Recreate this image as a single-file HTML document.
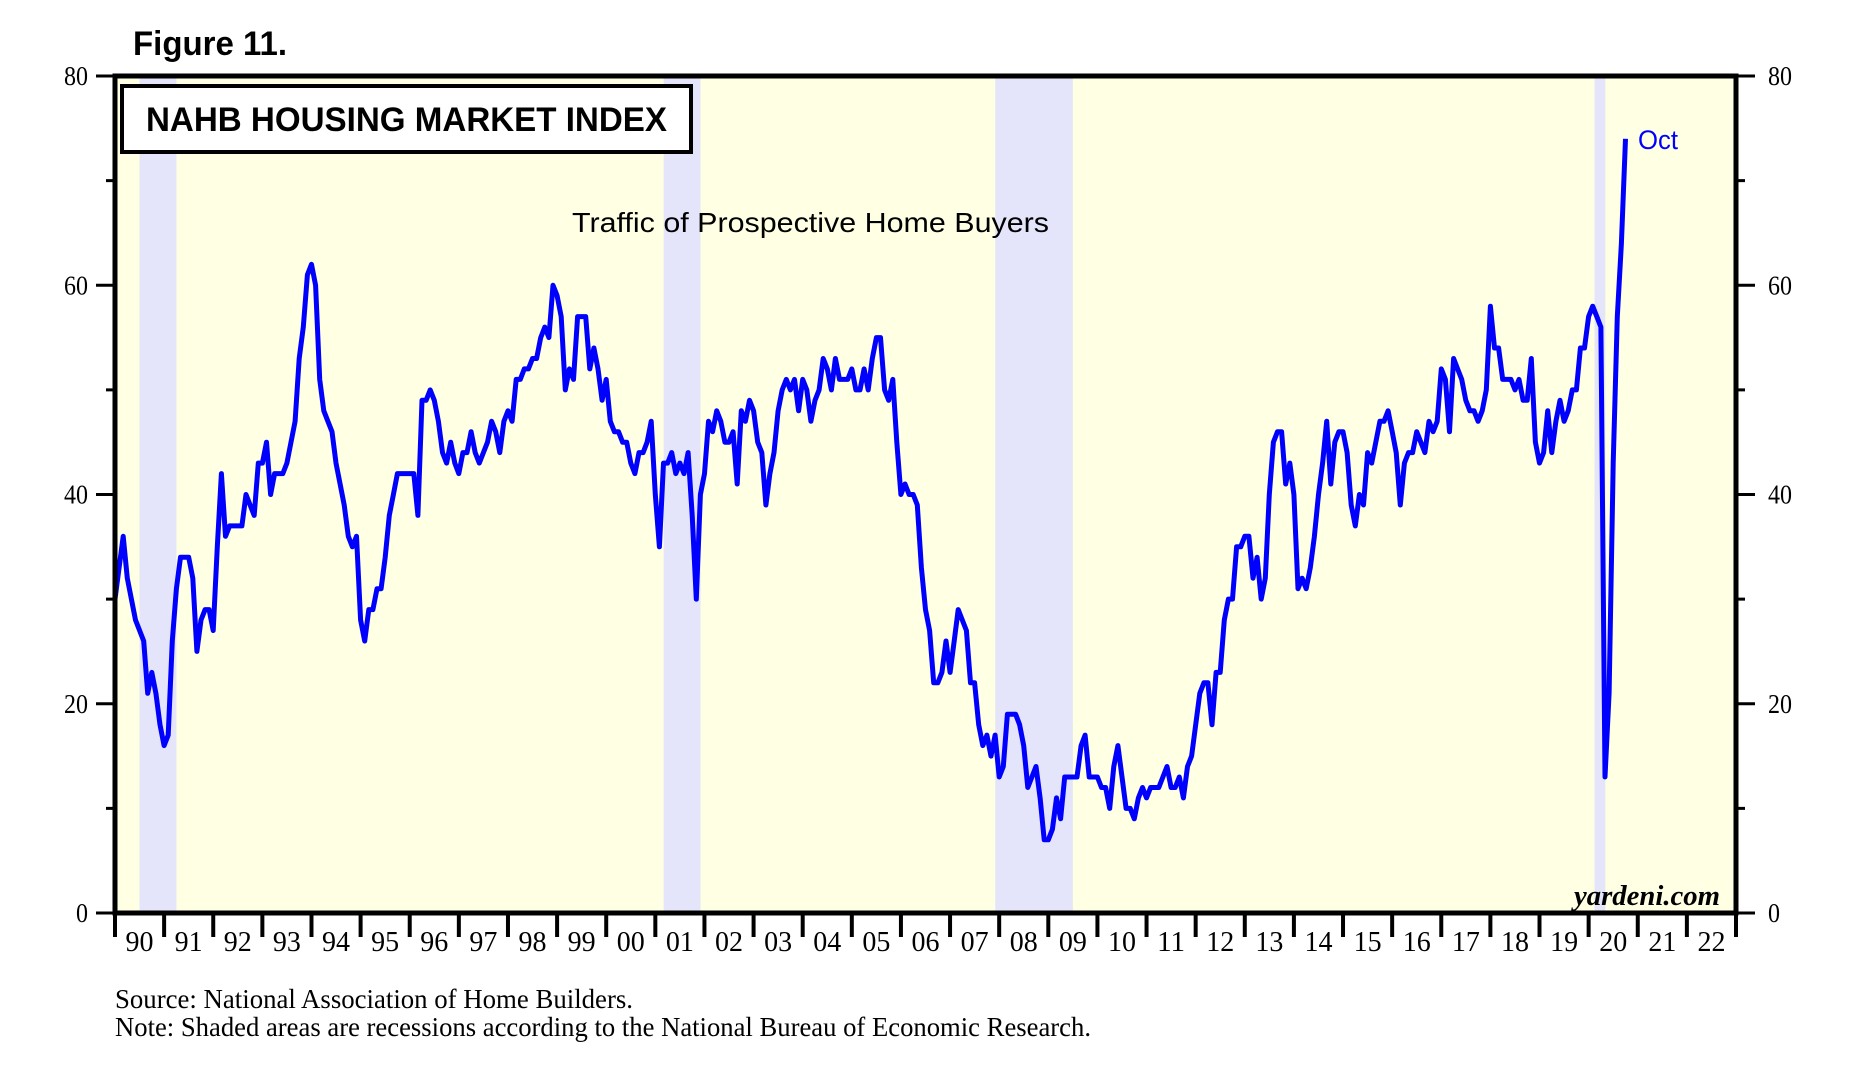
<!DOCTYPE html>
<html><head><meta charset="utf-8"><style>
html,body{margin:0;padding:0;background:#fff;}
svg{display:block;}
</style></head><body>
<svg id="chart" width="1860" height="1069" viewBox="0 0 1860 1069" xmlns="http://www.w3.org/2000/svg">
<rect x="0" y="0" width="1860" height="1069" fill="#fff"/>
<text x="133" y="55" font-family="Liberation Sans, sans-serif" font-weight="bold" font-size="34" textLength="154" lengthAdjust="spacingAndGlyphs">Figure 11.</text>
<rect x="115" y="76" width="1621" height="837" fill="#FFFFE3"/>
<g id="recessions"></g>
<g id="series"></g>
<rect x="115" y="76" width="1621" height="837" fill="none" stroke="#000" stroke-width="5"/>
<g id="yaxis"></g>
<g id="xaxis"></g>
<rect x="122" y="86" width="569" height="66" fill="#fff" stroke="#000" stroke-width="4"/>
<text x="146" y="131" font-family="Liberation Sans, sans-serif" font-weight="bold" font-size="34" textLength="521" lengthAdjust="spacingAndGlyphs">NAHB HOUSING MARKET INDEX</text>
<text x="572" y="232" font-family="Liberation Sans, sans-serif" font-size="28" textLength="477" lengthAdjust="spacingAndGlyphs">Traffic of Prospective Home Buyers</text>
<text x="1638" y="149" font-family="Liberation Sans, sans-serif" font-size="27" fill="#0000ff" textLength="40" lengthAdjust="spacingAndGlyphs">Oct</text>
<text x="1720" y="905" text-anchor="end" font-family="Liberation Serif, serif" font-style="italic" font-weight="bold" font-size="28" textLength="146" lengthAdjust="spacingAndGlyphs">yardeni.com</text>
<text x="115" y="1008" font-family="Liberation Serif, serif" font-size="27" textLength="518" lengthAdjust="spacingAndGlyphs">Source: National Association of Home Builders.</text>
<text x="115" y="1036" font-family="Liberation Serif, serif" font-size="27" textLength="976" lengthAdjust="spacingAndGlyphs">Note: Shaded areas are recessions according to the National Bureau of Economic Research.</text>
</svg>
<script>
// monthly values starting Jan 1990
const startYear = 1990;
const values = [30,33,36,32,30,28,27,26,21,23,21,18,16,17,
26,31,34,34,34,32,25,28,29,29,27,
35,42,36,37,37,37,37,40,39,38,
43,43,45,40,42,42,42,43,45,47,
53,56,61,62,60,
51,48,47,46,43,41,39,36,35,36,
28,26,29,29,31,31,34,38,40,42,
42,42,42,42,38,
49,49,50,49,47,44,43,45,43,42,
44,44,46,44,43,44,45,47,46,44,47,48,47,51,
51,52,52,53,53,55,56,55,60,59,57,
50,52,51,57,57,57,52,54,52,49,
51,47,46,46,45,45,43,42,44,44,45,47,
40,35,43,43,44,42,43,42,44,38,30,
40,42,47,46,48,47,45,45,46,41,
48,47,49,48,45,44,39,42,44,48,
50,51,50,51,48,51,50,47,49,50,
53,52,50,53,51,51,51,52,50,50,
52,50,53,55,55,50,49,51,45,40,
41,40,40,39,33,29,27,22,
22,23,26,23,26,29,28,27,22,22,
18,16,17,15,17,13,14,19,19,19,
18,16,12,13,14,11,7,7,8,11,
9,13,13,13,13,16,17,13,13,13,
12,12,10,14,16,13,10,10,9,11,
12,11,12,12,12,13,14,12,12,13,
11,14,15,18,21,22,22,18,23,23,
28,30,30,35,35,36,36,32,34,30,
32,40,45,46,46,41,43,40,31,32,
31,33,36,40,43,47,41,45,
46,46,44,39,37,40,39,44,43,45,
47,47,48,46,44,39,43,44,44,46,
45,44,47,46,47,52,51,46,53,52,
51,49,48,48,47,48,50,58,54,54,
51,51,51,50,51,49,49,53,45,43,
44,48,44,47,49,47,48,50,50,54,
54,57,58,57,56,13,21,43,57,64,74];
const recessionStarts = [1990.5, 2001.17, 2007.92, 2020.12];
const recessionEnds = [1991.25, 2001.92, 2009.5, 2020.34];
const yTicks = [0,10,20,30,40,50,60,70,80];
const yLabels = ["0","20","40","60","80"];
const yearLabels = ["90","91","92","93","94","95","96","97","98","99","00","01","02","03","04","05","06","07","08","09","10","11","12","13","14","15","16","17","18","19","20","21","22"];

const NS = "http://www.w3.org/2000/svg";
const X0 = 115, X1 = 1736, Y0 = 913, Y1 = 76, YMAX = 80;
const nYears = yearLabels.length;
function xYear(y){ return X0 + (y - startYear) / nYears * (X1 - X0); }
function xMonth(m){ return xYear(startYear + m / 12); }
function yVal(v){ return Y0 - v / YMAX * (Y0 - Y1); }
function mk(tag, attrs, parent){ const e = document.createElementNS(NS, tag); for (const k in attrs) e.setAttribute(k, attrs[k]); parent.appendChild(e); return e; }

const rg = document.getElementById('recessions');
recessionStarts.forEach((s, i) => {
  const r = mk('rect', {x: xYear(s), y: Y1, width: xYear(recessionEnds[i]) - xYear(s), height: Y0 - Y1, fill: '#E4E4FA'}, rg);
  
  
});

const sg = document.getElementById('series');
const pts = values.map((v, i) => xMonth(i).toFixed(1) + ',' + yVal(v).toFixed(1)).join(' ');
const pl = mk('polyline', {points: pts, fill: 'none', stroke: '#0000ff', 'stroke-width': 5, 'stroke-linejoin': 'round'}, sg);



const ya = document.getElementById('yaxis');
yTicks.forEach(v => {
  const major = v % 20 === 0;
  const len = major ? 19 : 9;
  const y = yVal(v);
  const t1 = mk('line', {x1: X0 - len, x2: X0, y1: y, y2: y, stroke: '#000', 'stroke-width': 3}, ya);
  
  
  const t2 = mk('line', {x1: X1, x2: X1 + len, y1: y, y2: y, stroke: '#000', 'stroke-width': 3}, ya);
  
  
});
yLabels.forEach(l => {
  const y = yVal(+l);
  const w = l.length * 12;
  const a = mk('text', {x: 88 - w, y: y + 9, 'font-family': 'Liberation Serif, serif', 'font-size': 27, textLength: w, lengthAdjust: 'spacingAndGlyphs'}, ya);
  a.textContent = l;
  
  
  const b = mk('text', {x: 1768, y: y + 9, 'font-family': 'Liberation Serif, serif', 'font-size': 27, textLength: w, lengthAdjust: 'spacingAndGlyphs'}, ya);
  b.textContent = l;
  
  
});

const xa = document.getElementById('xaxis');
for (let i = 0; i <= nYears; i++) {
  const x = xYear(startYear + i);
  const t = mk('line', {x1: x, x2: x, y1: Y0, y2: Y0 + 24, stroke: '#000', 'stroke-width': 4}, xa);
  
  
}
yearLabels.forEach((l, i) => {
  const x = xYear(startYear + i + 0.5);
  const t = mk('text', {x: x - 14, y: 951, 'font-family': 'Liberation Serif, serif', 'font-size': 29, textLength: 28, lengthAdjust: 'spacingAndGlyphs'}, xa);
  t.textContent = l;
  
  
});
</script>
</body></html>
